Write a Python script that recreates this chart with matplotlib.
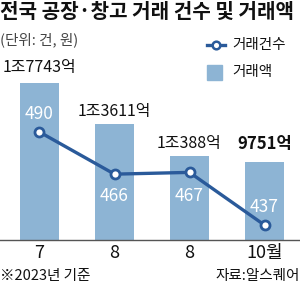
import matplotlib
matplotlib.use("Agg")
import matplotlib.pyplot as plt
from matplotlib.lines import Line2D
from matplotlib.patches import Rectangle

plt.rcParams['font.family'] = ['Noto Sans CJK KR', 'DejaVu Sans']

categories = ["7", "8", "8", "10월"]
amount = [17743, 13611, 10388, 9751]          # 억원
amount_labels = ["1조7743억", "1조3611억", "1조388억", "9751억"]
counts = [490, 466, 467, 437]                  # 건

bar_color = "#8db4d4"
line_color = "#2a5a9a"

W, H = 300, 284
fig = plt.figure(figsize=(W / 100, H / 100), dpi=100)

ax_bottom_px, ax_top_px = 240, 60
ax = fig.add_axes([0, 1 - ax_bottom_px / H, 1, (ax_bottom_px - ax_top_px) / H])
x = list(range(len(categories)))
ax.bar(x, amount, width=0.51, color=bar_color, zorder=1)
ax.set_xlim(-39.5 / 75, (300 - 39.5) / 75)
ax.set_ylim(2000, 20000)
ax.set_yticks([])
ax.set_xticks(x)
ax.set_xticklabels(categories, fontsize=13, color="#111111")
ax.tick_params(axis="x", length=0, pad=3)
for s in ["top", "left", "right"]:
    ax.spines[s].set_visible(False)
ax.spines["bottom"].set_color("#555555")
ax.spines["bottom"].set_linewidth(1.0)
ax.patch.set_alpha(0)

bar_offsets = [15, 12, 13, 18]
for i, (v, lab) in enumerate(zip(amount, amount_labels)):
    bold = (i == len(amount) - 1)
    ax.annotate(lab, xy=(i, v), xytext=(0, bar_offsets[i] * 0.72),
                textcoords="offset points", ha="center", va="center",
                fontsize=12 if bold else 11.5,
                fontweight="bold" if bold else "normal",
                color="#111111")

ax2 = ax.twinx()
ax2.set_ylim(428.5, 531.0)
ax2.set_yticks([])
for s in ["top", "left", "right", "bottom"]:
    ax2.spines[s].set_visible(False)
ax2.plot(x, counts, color=line_color, lw=2.4, marker="o", ms=6.5,
         mfc="white", mec=line_color, mew=2.0, zorder=3)
line_offsets = [-18, 22, 24, -18]
for i, v in enumerate(counts):
    ax2.annotate(str(v), xy=(i, v), xytext=(0, -line_offsets[i] * 0.72),
                 textcoords="offset points", ha="center", va="center",
                 fontsize=12.5, color="white")

def fx(px):
    return px / W

def fy(py):
    return 1 - py / H

fig.text(fx(0), fy(11), "전국 공장·창고 거래 건수 및 거래액", fontsize=14.5,
         fontweight="bold", ha="left", va="center", color="#111111")
fig.text(fx(0), fy(40), "(단위: 건, 원)", fontsize=10.5, ha="left",
         va="center", color="#444444")

# legend
fig.add_artist(Line2D([fx(207), fx(225)], [fy(45), fy(45)], color=line_color,
                      lw=2.4, transform=fig.transFigure))
fig.add_artist(Line2D([fx(216)], [fy(45)], marker="o", ms=5.5, mfc="white",
                      mec=line_color, mew=1.8, transform=fig.transFigure))
fig.text(fx(232), fy(45), "거래건수", fontsize=10.5, ha="left", va="center",
         color="#111111")
fig.add_artist(Rectangle((fx(207), fy(80)), fx(15), 15 / H, color=bar_color,
                         transform=fig.transFigure))
fig.text(fx(232), fy(72), "거래액", fontsize=10.5, ha="left", va="center",
         color="#111111")

fig.text(fx(0), fy(276), "※2023년 기준", fontsize=10.5, ha="left", va="center",
         color="#111111")
fig.text(fx(300), fy(276), "자료:알스퀘어", fontsize=10.5, ha="right",
         va="center", color="#111111")

fig.savefig("out.png", dpi=100)
